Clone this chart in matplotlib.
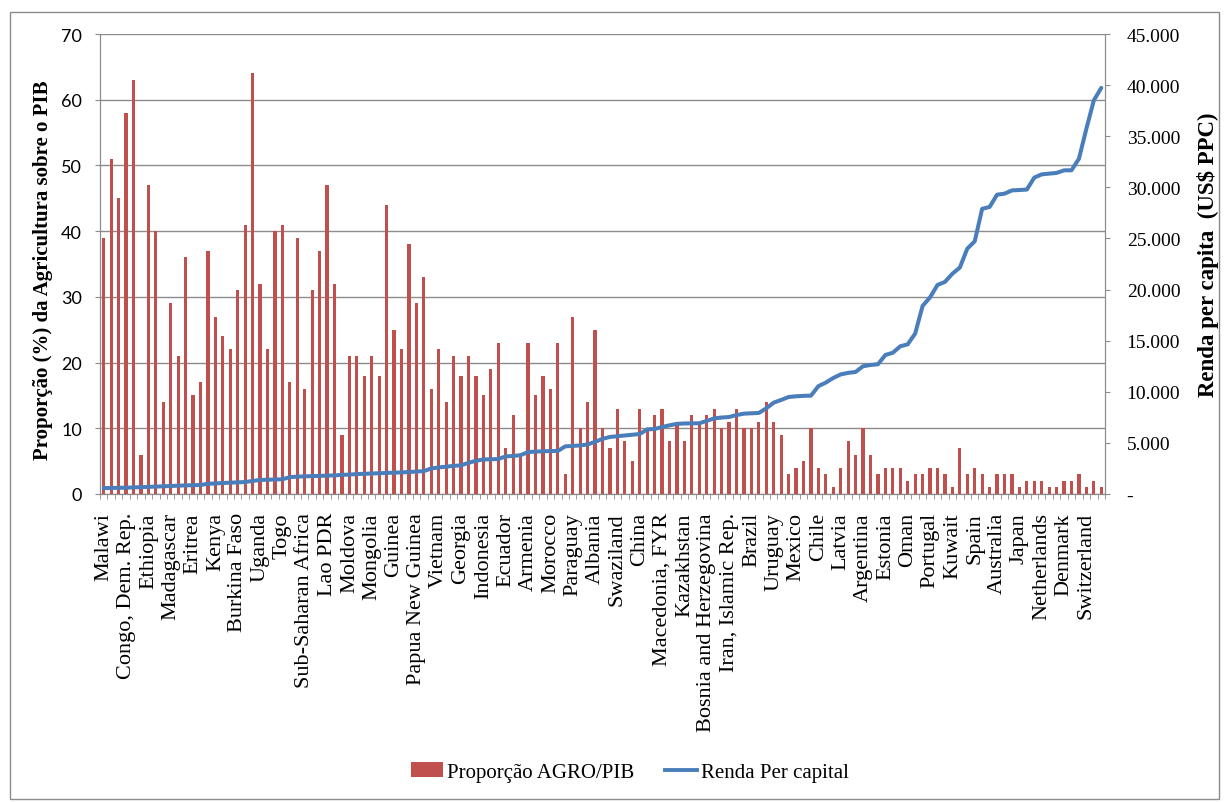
import numpy as np
import matplotlib
matplotlib.use("Agg")
import matplotlib.pyplot as plt
from matplotlib.patches import Rectangle, Patch
from matplotlib.lines import Line2D
from matplotlib.ticker import FuncFormatter, FixedLocator
from matplotlib.transforms import ScaledTranslation

plt.rcParams['font.family'] = ['Liberation Serif', 'DejaVu Serif']

# Every third country is labelled on the category axis
labelled_countries = [
    "Malawi", "Congo, Dem. Rep.", "Ethiopia", "Madagascar", "Eritrea", "Kenya",
    "Burkina Faso", "Uganda", "Togo", "Sub-Saharan Africa", "Lao PDR", "Moldova",
    "Mongolia", "Guinea", "Papua New Guinea", "Vietnam", "Georgia", "Indonesia",
    "Ecuador", "Armenia", "Morocco", "Paraguay", "Albania", "Swaziland", "China",
    "Macedonia, FYR", "Kazakhstan", "Bosnia and Herzegovina", "Iran, Islamic Rep.",
    "Brazil", "Uruguay", "Mexico", "Chile", "Latvia", "Argentina", "Estonia", "Oman",
    "Portugal", "Kuwait", "Spain", "Australia", "Japan", "Netherlands", "Denmark",
    "Switzerland",
]
label_step = 3

# Agriculture share of GDP (%)
agro_share = [
    39, 51, 45, 58, 63, 6, 47, 40, 14, 29, 21, 36, 15, 17, 37, 27, 24, 22, 31, 41,
    64, 32, 22, 40, 41, 17, 39, 16, 31, 37, 47, 32, 9, 21,
    21, 18, 21, 18, 44, 25, 22, 38, 29, 33, 16, 22, 14, 21, 18, 21, 18, 15, 19, 23,
    7, 12, 6, 23, 15, 18, 16, 23, 3, 27, 10, 14, 25, 10,
    7, 13, 8, 5, 13, 10, 12, 13, 8, 11, 8, 12, 11, 12, 13, 10, 11, 13, 10, 10, 11,
    14, 11, 9, 3, 4, 5, 10, 4, 3, 1, 4, 8,
    6, 10, 6, 3, 4, 4, 4, 2, 3, 3, 4, 4, 3, 1, 7, 3, 4, 3, 1, 3, 3, 3, 1, 2, 2, 2,
    1, 1, 2, 2, 3, 1, 2, 1,
]

# Income per capita (US$ PPP)
income_pc = [
    580, 590, 600, 620, 640, 670, 700, 730, 760, 790, 815, 840, 860, 880, 1000,
    1040, 1080, 1110, 1140, 1170, 1280, 1370, 1400, 1420, 1440, 1650, 1700, 1730,
    1750, 1770, 1790, 1820, 1870, 1900,
    1950, 1980, 2000, 2030, 2060, 2080, 2110, 2150, 2190, 2240, 2500, 2600, 2680,
    2750, 2800, 3050, 3250, 3380, 3400, 3420, 3680, 3720, 3800, 4100, 4150, 4180,
    4200, 4210, 4660, 4700, 4750, 4850, 5100, 5400,
    5580, 5650, 5710, 5790, 5870, 6320, 6360, 6550, 6720, 6860, 6900, 6910, 6920,
    7150, 7400, 7480, 7530, 7720, 7860, 7890, 7930, 8380, 8940, 9200, 9490, 9560,
    9600, 9620, 10550, 10900, 11350,
    11700, 11850, 11940, 12500, 12620, 12690, 13600, 13820, 14450, 14640, 15700,
    18400, 19240, 20450, 20750, 21550, 22150, 24000, 24720, 27900, 28080, 29280,
    29380, 29700, 29740, 29780, 30950, 31270, 31340, 31410, 31660, 31670, 32800,
    35740, 38510, 39730,
]

BAR_RED = '#C0504D'
LINE_BLUE = '#4A7EBB'
GRID = '#8C8C8C'

W, H = 1226, 803
fig = plt.figure(figsize=(W / 100, H / 100), dpi=100)

ax = fig.add_axes([100 / W, 1 - 495 / H, 1005 / W, 460 / H])
ax2 = ax.twinx()

x = np.arange(len(agro_share))
ax.bar(x, agro_share, width=0.42, color=BAR_RED, zorder=2)
ax2.plot(x, income_pc, color=LINE_BLUE, lw=2.9, solid_joinstyle='round',
         solid_capstyle='round')

ax.set_xlim(-0.5, len(x) - 0.5)
ax.set_ylim(0, 70)
ax.set_yticks(range(0, 71, 10))
ax2.set_ylim(0, 45000)
ax2.set_yticks(range(0, 45001, 5000))

ax.yaxis.grid(True, color=GRID, lw=1.0)
ax.set_axisbelow(True)

ax.spines['top'].set_visible(False)
ax2.spines['top'].set_visible(False)
for sp in ('left', 'bottom', 'right'):
    ax.spines[sp].set_color(GRID)
    ax2.spines[sp].set_color(GRID)

# Category axis: labels under every third bar, small marks between categories
ax.xaxis.set_major_locator(FixedLocator(np.arange(0, len(x), label_step)))
ax.set_xticklabels(labelled_countries, rotation=90, fontsize=16,
                   family=['Liberation Serif'])
shift = ScaledTranslation(3 / 100, 0, fig.dpi_scale_trans)
for t in ax.get_xticklabels():
    t.set_transform(t.get_transform() + shift)
ax.xaxis.set_minor_locator(FixedLocator(np.arange(-0.5, len(x), 1)))
ax.tick_params(axis='x', which='major', length=0, pad=13)
ax.tick_params(axis='x', which='minor', length=3.5, color=GRID, direction='out')

ax.tick_params(axis='y', length=3.6, color=GRID, direction='out', pad=9.5,
               labelsize=13)
for t in ax.get_yticklabels():
    t.set_family(['Lato', 'DejaVu Sans'])

def thousands(v, pos):
    if v == 0:
        return '-'
    return f"{v:,.0f}".replace(',', '.')

ax2.yaxis.set_major_formatter(FuncFormatter(thousands))
ax2.tick_params(axis='y', length=3.6, color=GRID, direction='out', pad=12,
                labelsize=14)

fig.text(43 / W, 1 - 270 / H, 'Proporção (%) da Agricultura sobre o PIB',
         rotation=90, ha='center', va='center', fontsize=15, fontweight='bold')
fig.text(1208 / W, 1 - 255 / H, 'Renda per capita  (US$ PPC)',
         rotation=90, ha='center', va='center', fontsize=16.5, fontweight='bold')

handles = [Patch(facecolor=BAR_RED, edgecolor='none'),
           Line2D([0], [0], color=LINE_BLUE, lw=2.8)]
fig.legend(handles, ['Proporção AGRO/PIB', 'Renda Per capital'],
           loc='center', bbox_to_anchor=(630 / W, 1 - 773 / H), ncol=2,
           frameon=False, prop={'family': 'Liberation Serif', 'size': 15},
           handlelength=1.5, handletextpad=0.2, columnspacing=1.5)

fig.add_artist(Rectangle((10 / W, 3 / H), 1209 / W, 787 / H,
                         transform=fig.transFigure, fill=False,
                         ec=GRID, lw=1.0))

fig.savefig('out.png', dpi=100)
